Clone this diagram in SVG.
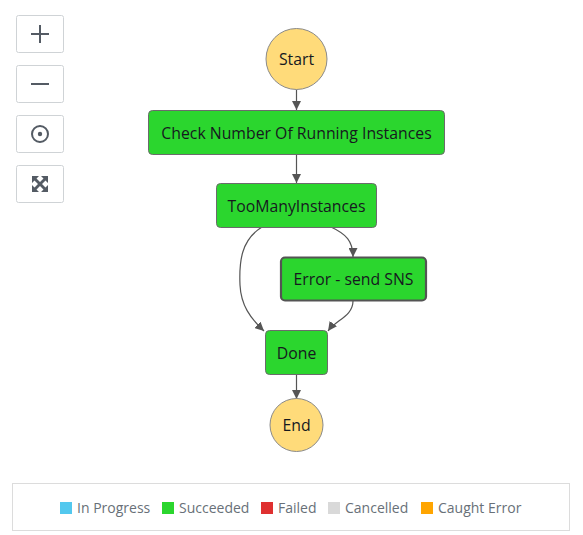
<svg xmlns="http://www.w3.org/2000/svg" width="583" height="535" viewBox="0 0 583 535">
<style>
.btn{fill:#fff;stroke:#cfd3d6;stroke-width:1}
.ico{fill:none;stroke:#545b64;stroke-width:2}
.state{fill:#2bd62e;stroke:#6b6b6b;stroke-width:1}
.term{fill:#ffdb7a;stroke:#8a8a8a;stroke-width:1}
.lbl{font-family:"Open Sans","Noto Sans",sans-serif;font-size:15.8px;fill:#16191f;text-anchor:middle;dominant-baseline:central}
.edge{fill:none;stroke:#555;stroke-width:1.2}
.leg{font-family:"Open Sans","Noto Sans",sans-serif;font-size:14px;fill:#687078}
</style>
<defs>
<marker id="ah" markerUnits="userSpaceOnUse" markerWidth="9" markerHeight="9" viewBox="0 0 10 10" refX="10" refY="5" orient="auto">
<path d="M0,0 L10,5 L0,10 z" fill="#555"/>
</marker>
</defs>
<rect width="583" height="535" fill="#fff"/>
<g id="controls">
<rect class="btn" x="16.5" y="15.5" width="47" height="37" rx="2"/>
<path class="ico" d="M31,34 H49 M40,25 V43"/>
<rect class="btn" x="16.5" y="65.5" width="47" height="37" rx="2"/>
<path class="ico" d="M31,84 H49"/>
<rect class="btn" x="16.5" y="115.5" width="47" height="37" rx="2"/>
<circle class="ico" cx="40" cy="134" r="8"/>
<circle cx="40" cy="134" r="2.2" fill="#545b64"/>
<rect class="btn" x="16.5" y="165.5" width="47" height="37" rx="2"/>
<g fill="#545b64">
<path d="M32,176 L39,176 L36.5,178.5 L40,182 L43.5,178.5 L41,176 L48,176 L48,183 L45.5,180.5 L42,184 L45.5,187.5 L48,185 L48,192 L41,192 L43.5,189.5 L40,186 L36.5,189.5 L39,192 L32,192 L32,185 L34.5,187.5 L38,184 L34.5,180.5 L32,183 z"/>
</g>
</g>
<g id="connectors">
<path class="edge" d="M296.5,89.5 V110" marker-end="url(#ah)"/>
<path class="edge" d="M296.5,154 V183" marker-end="url(#ah)"/>
<path class="edge" d="M262,227 C241,240 239,262 240,285 C241,305 250,318 264,331" marker-end="url(#ah)"/>
<path class="edge" d="M331,227 C346,234 353,241 353,257" marker-end="url(#ah)"/>
<path class="edge" d="M353,301 C353,316 336,320 328,331" marker-end="url(#ah)"/>
<path class="edge" d="M296.5,374 V399" marker-end="url(#ah)"/>
</g>
<g id="start">
<circle class="term" cx="296.5" cy="59" r="30.5"/>
<text class="lbl" x="296.5" y="59">Start</text>
</g>
<g id="check">
<rect class="state" x="148.5" y="110.5" width="296" height="44" rx="4"/>
<text class="lbl" x="296.5" y="132.5">Check Number Of Running Instances</text>
</g>
<g id="toomany">
<rect class="state" x="216.5" y="183.5" width="160" height="44" rx="4"/>
<text class="lbl" x="296.5" y="205.5">TooManyInstances</text>
</g>
<g id="error">
<rect class="state" x="281" y="257.5" width="145" height="43" rx="4" style="stroke:#545454;stroke-width:2.2"/>
<text class="lbl" x="353.5" y="279">Error - send SNS</text>
</g>
<g id="done">
<rect class="state" x="265.5" y="330.5" width="62" height="44" rx="4"/>
<text class="lbl" x="296.5" y="352.5">Done</text>
</g>
<g id="end">
<circle class="term" cx="296.5" cy="425" r="26.5"/>
<text class="lbl" x="296.5" y="425">End</text>
</g>
<g id="legend">
<rect x="12.5" y="483.5" width="557" height="47" fill="#fff" stroke="#dcdcdc"/>
<rect x="60" y="502" width="12" height="12" fill="#53c8ee"/>
<text class="leg" x="77" y="513">In Progress</text>
<rect x="162" y="502" width="12" height="12" fill="#2bd62e"/>
<text class="leg" x="179" y="513">Succeeded</text>
<rect x="261" y="502" width="12" height="12" fill="#df3030"/>
<text class="leg" x="278" y="513">Failed</text>
<rect x="328" y="502" width="12" height="12" fill="#d9d9d9"/>
<text class="leg" x="345" y="513">Cancelled</text>
<rect x="421" y="502" width="12" height="12" fill="#ffa500"/>
<text class="leg" x="438" y="513">Caught Error</text>
</g>
</svg>
